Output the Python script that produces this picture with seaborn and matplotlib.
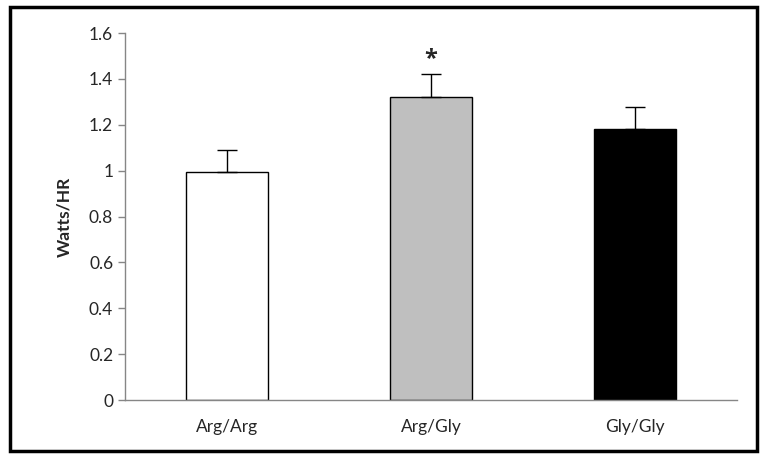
import matplotlib
matplotlib.use("Agg")
import matplotlib.pyplot as plt
import seaborn as sns
import pandas as pd
from matplotlib.patches import Rectangle

genotypes = ["Arg/Arg", "Arg/Gly", "Gly/Gly"]
watts_hr = [0.995, 1.323, 1.181]
sem = [0.093, 0.100, 0.097]
bar_colors = ["#ffffff", "#bfbfbf", "#000000"]
y_ticks = [0, 0.2, 0.4, 0.6, 0.8, 1, 1.2, 1.4, 1.6]
y_tick_labels = ["0", "0.2", "0.4", "0.6", "0.8", "1", "1.2", "1.4", "1.6"]

df = pd.DataFrame({"Genotype": genotypes, "Watts/HR": watts_hr})

sns.set_style("white")
plt.rcParams["font.family"] = ["Lato", "DejaVu Sans"]

fig = plt.figure(figsize=(7.6, 4.54), dpi=100)
ax = fig.add_axes([0.1645, 0.1189, 0.8052, 0.8084])

sns.barplot(data=df, x="Genotype", y="Watts/HR", hue="Genotype", palette=bar_colors,
            legend=False, width=0.4, edgecolor="black", linewidth=1.0, ax=ax)

# upper-only error bars
ax.errorbar(range(len(genotypes)), watts_hr, yerr=[[0] * len(sem), sem], fmt="none",
            ecolor="black", elinewidth=1.0, capsize=7, capthick=1.0, zorder=3)

# significance marker
ax.text(1, watts_hr[1] + sem[1] + 0.01, "*", ha="center", va="bottom", fontsize=17,
        fontweight="bold", family=["Open Sans", "DejaVu Sans"])

ax.set_xlim(-0.5, 2.5)
ax.set_ylim(0, 1.6)
ax.set_yticks(y_ticks)
ax.set_yticklabels(y_tick_labels)
ax.set_xticks([-0.5, 0.5, 1.5, 2.5], minor=True)
ax.tick_params(axis="x", which="major", length=0, pad=14, labelsize=12.5)
ax.tick_params(axis="x", which="minor", length=5, color="#868686", width=1)
ax.tick_params(axis="y", length=5, color="#868686", width=1, labelsize=12.5, left=True)
ax.set_xlabel("")
ax.set_ylabel("Watts/HR", fontsize=12.5, fontweight="bold", labelpad=12)

for s in ["top", "right"]:
    ax.spines[s].set_visible(False)
for s in ["left", "bottom"]:
    ax.spines[s].set_color("#868686")
    ax.spines[s].set_linewidth(1)

# frame around the whole chart
fig.add_artist(Rectangle((0.013, 0.007), 0.983, 0.978, transform=fig.transFigure,
                         fill=False, edgecolor="black", linewidth=2.5))

fig.savefig("out.png", dpi=100)
